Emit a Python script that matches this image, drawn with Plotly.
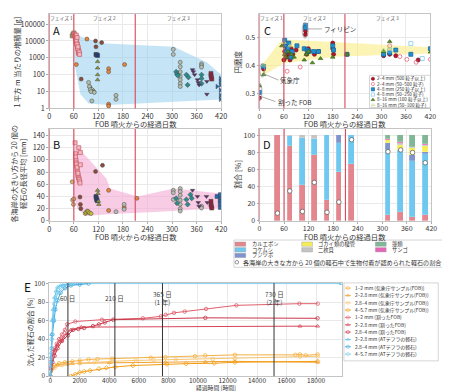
import plotly.graph_objects as go

W, H = 450, 391
FONT = "Noto Sans CJK JP"

# ---------------- shared ----------------
day_ticks = [0, 60, 120, 180, 240, 300, 360, 420]
phase_days = [0, 60, 210]
phase_names = ["フェイズ 1", "フェイズ 2", "フェイズ 3"]
phase_label_days = [30, 135, 315]

# ---------------- Panel A (g per m2, log) ----------------
A_env_x = [60, 128, 304, 385, 420, 420, 144, 96, 76, 63]
A_env_y = [25000, 7400, 4500, 550, 100, 3.4, 1.6, 2, 7, 300]

A_tan_x = [56, 58, 60];            A_tan_y = [20000, 25000, 30000]
A_pink_x = [62, 63, 64, 65, 66, 67, 68, 69, 70, 71, 72, 63, 65, 67, 69, 71, 64, 66, 68, 70, 72, 66, 68, 73, 74]
A_pink_y = [25000, 20000, 15000, 12000, 10000, 8000, 6000, 5000, 4000, 3000, 2500, 18000, 9000, 7000,
            3500, 2000, 13000, 11000, 6500, 4500, 1800, 22000, 16000, 2200, 1600]
A_orange_x = [66, 92, 145, 145, 145, 145, 184]
A_orange_y = [400, 13000, 230, 150, 1.8, 1.4, 400]
A_brown_x = [78, 113, 114, 128];   A_brown_y = [55, 10000, 4500, 8000]
A_navy_x = [114, 116, 118];        A_navy_y = [1600, 1500, 1400]
A_olive_x = [118, 118, 118, 118, 100, 108]
A_olive_y = [600, 250, 100, 50, 20, 12]
A_gray_x = [96, 98, 100, 102, 104, 110, 163, 163, 303, 303, 320, 320, 320, 320, 320, 320, 320, 372, 372, 372]
A_gray_y = [35, 20, 13, 10, 2.8, 9, 6, 3.5, 3200, 1600, 550, 300, 150, 80, 50, 30, 20, 450, 350, 280]
A_teal_x = [310, 312, 314, 335, 338, 340, 372, 372, 372]
A_teal_y = [150, 110, 90, 100, 25, 70, 100, 60, 30]
A_purple_x = [350, 352, 355, 362, 364, 366, 385, 385]
A_purple_y = [200, 150, 100, 50, 35, 25, 40, 7]
A_dred_x = [395, 395, 396, 397];   A_dred_y = [120, 90, 70, 55]
A_blue_x = [410, 418, 418, 418, 418, 418, 418]
A_blue_y = [20, 60, 40, 25, 12, 6, 3.5]

# ---------------- Panel B (mean long axis, mm) ----------------
B_env_x = [60, 64, 140, 148, 216, 304, 420, 420, 304, 144, 88, 68, 60]
B_env_y = [110, 125, 69, 53, 40, 53, 45, 21, 16, 11, 8, 21, 43]

B_tan_x = [56, 57, 59, 60];        B_tan_y = [64, 34, 27, 36]
B_pink_x = [63, 64, 65, 66, 67, 68, 69, 70, 71, 72, 73, 74, 75, 64, 66, 68, 70, 72, 76, 76]
B_pink_y = [128, 110, 100, 95, 90, 85, 80, 75, 72, 70, 68, 65, 62, 105, 93, 88, 78, 120, 112, 92]
B_brown_x = [75, 76, 77, 113, 130]; B_brown_y = [39, 27, 20, 81, 91]
B_yellow_x = [88, 90, 93, 95, 98, 102]; B_yellow_y = [12, 14, 16, 15, 13, 12]
B_navy_x = [114, 115, 116, 117];   B_navy_y = [40, 37, 35, 33]
B_olive_x = [118, 119, 120, 121];  B_olive_y = [50, 45, 32, 27]
B_orange_x = [145, 145, 183, 214]; B_orange_y = [50, 17, 22, 37]
B_gray_x = [163, 183, 183, 303, 303, 303, 320, 320, 320, 320, 320, 320, 320, 372, 372]
B_gray_y = [15, 27, 19, 50, 46, 35, 53, 48, 42, 34, 27, 20, 16, 24, 21]
B_teal_x = [310, 312, 335, 338, 345, 348]; B_teal_y = [37, 29, 35, 27, 43, 37]
B_purple_x = [350, 362, 364, 366, 384, 386]; B_purple_y = [50, 40, 30, 24, 40, 30]
B_dred_x = [395, 395, 396, 397];   B_dred_y = [32, 27, 24, 21]
B_blue_x = [410, 418, 418, 418, 418, 418]; B_blue_y = [40, 43, 36, 32, 28, 22]

# ---------------- Panel C (roundness) ----------------
C_env_x = [6, 51, 75, 184, 420, 420, 184, 59, 6]
C_env_y = [0.402, 0.485, 0.492, 0.483, 0.465, 0.443, 0.431, 0.408, 0.362]

C_s24f_x = [0, 10, 60, 62, 63, 65, 66, 68, 70, 72, 75, 78, 82, 90, 113, 113, 116, 120, 122, 135, 145, 180, 180, 182, 215, 305, 320, 335, 390]
C_s24f_y = [0.285, 0.388, 0.42, 0.45, 0.47, 0.44, 0.43, 0.46, 0.45, 0.44, 0.42, 0.46, 0.44, 0.455, 0.523, 0.51,
            0.44, 0.46, 0.45, 0.44, 0.45, 0.48, 0.46, 0.44, 0.44, 0.435, 0.44, 0.435, 0.42]
C_s24o_x = [68, 100, 320, 345, 362, 385, 420]
C_s24o_y = [0.38, 0.395, 0.47, 0.432, 0.422, 0.412, 0.422]
C_s48f_x = [0, 10, 62, 64, 66, 70, 72, 78, 80, 92, 110, 113, 113, 117, 120, 133, 145, 180, 182, 215, 305, 320, 335, 372, 420]
C_s48f_y = [0.305, 0.397, 0.49, 0.47, 0.45, 0.46, 0.48, 0.43, 0.45, 0.47, 0.46, 0.543, 0.534, 0.455, 0.45, 0.45,
            0.45, 0.47, 0.455, 0.44, 0.44, 0.445, 0.455, 0.44, 0.46]
C_s48o_x = [320, 372, 400];        C_s48o_y = [0.455, 0.478, 0.425]
C_s816f_x = [0, 10, 55, 62, 65, 70, 78, 85, 110, 115, 120, 130, 150, 180, 215, 305, 320, 420]
C_s816f_y = [0.328, 0.368, 0.47, 0.44, 0.43, 0.45, 0.44, 0.43, 0.42, 0.44, 0.45, 0.41, 0.425, 0.43, 0.44, 0.45, 0.485, 0.448]
C_s816o_x = [10, 60, 75, 305, 320]; C_s816o_y = [0.402, 0.482, 0.47, 0.455, 0.46]
C_legend = ["2–4 mm (500 粒子以上)", "2–4 mm (50–500 粒子)", "4–8 mm (250 粒子以上)",
            "4–8 mm (50–250 粒子)", "8–16 mm (100 粒子以上)", "8–16 mm (50–100 粒子)"]

# ---------------- Panel D (organism share, %) ----------------
D_days = [44, 74, 105, 134, 165, 194, 225, 314, 345, 374, 405]
D_cats = ["カルエボシ", "コケムシ", "フジツボ", "ゴカイ類の棲管", "二枚貝", "サンゴ", "藻類"]
D_karuebosi = [100, 88, 42, 77, 25, 57, 67, 7, 10, 5, 7]
D_kokemushi = [0, 11, 55, 19, 75, 34, 33, 76, 73, 65, 71]
D_fujitsubo = [0, 0, 0, 0, 0, 9, 0, 8, 0, 7, 3]
D_gokai = [0, 0, 0, 0, 0, 0, 0, 4, 6, 8, 7]
D_nimaigai = [0, 1, 3, 4, 0, 0, 0, 0, 2, 1, 1]
D_sango = [0, 0, 0, 0, 0, 0, 0, 1, 1, 0, 1]
D_sourui = [0, 0, 0, 0, 0, 0, 0, 4, 8, 14, 10]
D_ratio = [9, 35, 11, 45, 10, 22, 95, 81, 83, 80, 68]
D_ratio_label = "各海岸の大きな方から 20 個の軽石中で生物付着が認められた軽石の割合"

# ---------------- Panel E (sunk share vs hours) ----------------
E_O1_x = [0, 100, 300, 600, 1000, 1500, 2000, 2600, 3200, 4200, 6800, 7800, 9800, 10500, 12500, 16600, 16900, 17300, 18100]
E_O1_y = [0, 8, 12, 14, 15, 16, 17, 18, 18.5, 19, 20, 20.5, 21.5, 22.5, 23, 23, 23.5, 22.5, 23.5]
E_O2_x = [0, 200, 500, 1000, 1500, 2000, 4000, 7800, 10500, 12500, 18100]
E_O2_y = [0, 10, 12, 13, 13.5, 14, 14.5, 15, 15.5, 16, 15]
E_O3_x = [0, 300, 800, 1200, 2000, 3000, 4200, 5800, 7000, 8500, 11000, 12500, 16900, 18100]
E_O3_y = [0, 9, 12, 13, 14, 15, 16, 17, 17.5, 18, 18.5, 19, 21, 21.5]
E_O4_x = [1400, 1700, 2000, 2300, 2700, 3300, 3800, 4400, 5600, 7900, 9200, 11100, 12500, 18100]
E_O4_y = [0, 2, 4, 5, 6, 8, 9, 10, 11.5, 13, 13.5, 14, 15, 16]
E_R1_x = [0, 50, 100, 200, 300, 450, 600, 800, 1000, 1150, 1700, 3500, 6270, 7490, 7820, 8380, 9110, 10550, 12600, 16870, 18110]
E_R1_y = [0, 12, 20, 26, 30, 35, 40, 45, 50, 56, 59, 61, 62.5, 64.6, 66.3, 68.4, 69.8, 72.6, 76.5, 78.3, 78.3]
E_R2_x = [0, 50, 100, 200, 300, 500, 700, 900, 1100, 1400, 2100, 16900, 18100]
E_R2_y = [0, 10, 18, 24, 28, 34, 38, 42, 46, 50, 53, 54, 54]
E_R3_x = [0, 60, 150, 300, 500, 800, 1200, 1550, 1900, 2300, 2900, 3300, 3700, 4270, 10500, 18100]
E_R3_y = [0, 8, 15, 22, 30, 38, 44, 50, 51, 52, 54, 56, 58, 61, 63, 62.5]
E_B1_x = [0, 24, 48, 96, 150, 200, 300, 400, 500, 700, 900, 1200, 1700, 19700]
E_B1_y = [0, 10, 25, 45, 60, 72, 85, 92, 96, 98, 99, 100, 100, 100]
E_B2_x = [0, 24, 48, 96, 150, 250, 350, 500, 700, 1000, 1400, 2000, 2600]
E_B2_y = [0, 5, 15, 30, 45, 60, 72, 82, 90, 95, 98, 99, 100]
E_B3_x = [0, 50, 100, 200, 300, 500, 700, 900, 1200, 1500]
E_B3_y = [0, 20, 40, 62, 78, 90, 95, 97, 99, 100]
E_names = ["1–2 mm (気象庁サンプル(FOB))", "2–2.8 mm (気象庁サンプル(FOB))", "2.8–4 mm (気象庁サンプル(FOB))",
           "4–5.7 mm (気象庁サンプル(FOB))", "1–2 mm (割ったFOB)", "2–2.8 mm (割ったFOB)", "2.8–4 mm (割ったFOB)",
           "2–2.8 mm (ATテフラの軽石)", "2.8–4 mm (ATテフラの軽石)", "4–5.7 mm (ATテフラの軽石)"]
E_hour_ticks = [0, 2000, 4000, 6000, 8000, 10000, 12000, 14000, 16000, 18000]
E_mark_hours = [1200, 4380, 7600, 15150]
E_mark_labels = ["60 日", "210 日", "365 日<br>(1 年)", "730 日<br>(2 年)"]

# ---------------- helpers ----------------
def fx(p): return p / W
def fy(p): return 1 - p / H

fig = go.Figure()
ann = []
shapes = []

def text(x, y, s, size=7, color="#333", xa="center", ya="middle", angle=0, xref="paper", yref="paper"):
    if xref == "paper":
        x = fx(x)
    if yref == "paper":
        y = fy(y)
    ann.append(dict(x=x, y=y, xref=xref, yref=yref, text=s, showarrow=False, xanchor=xa, yanchor=ya,
                    textangle=angle, font=dict(size=size, color=color, family=FONT)))

def axis(domain, rng, ticks, size, log=False, labels=None):
    d = dict(domain=domain, range=rng, showline=True, linecolor="#c4c4c4", linewidth=0.8, mirror=True,
             showgrid=True, gridcolor="#e9e9e9", gridwidth=0.6, zeroline=False, ticks="outside", ticklen=2,
             tickcolor="#aaa", tickfont=dict(size=size, color="#333", family=FONT), tickvals=ticks)
    if labels is not None:
        d["ticktext"] = labels
    if log:
        d["type"] = "log"
    return d

lay = {}
lay["xaxis"] = axis([fx(40), fx(215)], [0, 420], day_ticks, 7.3)
lay["yaxis"] = axis([fy(98), fy(1)], [0, 5.6], [1, 10, 100, 1000, 10000, 100000], 7.3, log=True,
                    labels=["1", "10", "100", "1000", "10000", "100000"])
lay["xaxis2"] = axis([fx(40), fx(215)], [0, 420], day_ticks, 7.3)
lay["yaxis2"] = axis([fy(213.3), fy(119)], [0, 150.7], [0, 20, 40, 60, 80, 100, 120, 140], 7.3)
lay["xaxis3"] = axis([fx(254), fx(428)], [0, 420], day_ticks, 7)
lay["yaxis3"] = axis([fy(97.7), fy(1)], [0.249, 0.583], [0.3, 0.4, 0.5], 7)
lay["xaxis4"] = axis([fx(254), fx(429)], [0, 420], day_ticks, 7)
lay["yaxis4"] = axis([fy(213.3), fy(119)], [0, 107.6], [0, 20, 40, 60, 80, 100], 7)
lay["xaxis5"] = axis([fx(40), fx(338)], [-60, 19750], E_hour_ticks, 6.5,
                     labels=[str(v) for v in E_hour_ticks])
lay["yaxis5"] = axis([fy(372.7), fy(277.3)], [0, 100.4], [0, 20, 40, 60, 80, 100], 6.5)
for k in ["xaxis", "xaxis2", "xaxis3", "xaxis4"]:
    lay[k]["ticklabelstandoff"] = -1
lay["xaxis5"]["ticklabelstandoff"] = -4
for i in range(1, 6):
    lay["yaxis" + ("" if i == 1 else str(i))]["anchor"] = "x" + ("" if i == 1 else str(i))
    lay["xaxis" + ("" if i == 1 else str(i))]["anchor"] = "y" + ("" if i == 1 else str(i))
lay["xaxis6"] = dict(domain=[0, 1], range=[0, W], visible=False, anchor="y6", fixedrange=True)
lay["yaxis6"] = dict(domain=[0, 1], range=[H, 0], visible=False, anchor="x6", fixedrange=True)

def pts(x, y, ax, color, symbol="circle", size=4, edge="#444", ew=0.5):
    fig.add_trace(go.Scatter(x=x, y=y, xaxis="x" + ax, yaxis="y" + ax, mode="markers", showlegend=False,
                             marker=dict(color=color, symbol=symbol, size=size, line=dict(color=edge, width=ew))))

def box(x0, x1, y0, y1):
    fig.add_trace(go.Scatter(x=[x0, x1, x1, x0, x0], y=[y0, y0, y1, y1, y0], xaxis="x6", yaxis="y6",
                             mode="lines", fill="toself", fillcolor="white", showlegend=False,
                             line=dict(color="#bbbbbb", width=0.6)))

# ---- A ----
fig.add_trace(go.Scatter(x=A_env_x, y=A_env_y, xaxis="x", yaxis="y", fill="toself", mode="lines",
                         line=dict(width=0), fillcolor="rgba(150,208,238,0.55)", showlegend=False))
pts(A_tan_x, A_tan_y, "", "#d8b468", "square")
pts(A_pink_x, A_pink_y, "", "#f4b8bc", "square", edge="#c85a6a", ew=0.7)
pts(A_orange_x, A_orange_y, "", "#e8843a")
pts(A_brown_x, A_brown_y, "", "#8c4a3c")
pts(A_navy_x, A_navy_y, "", "#243c78", "square")
pts(A_olive_x, A_olive_y, "", "#8e9c34", "triangle-up")
pts(A_gray_x, A_gray_y, "", "#b4beb0")
pts(A_teal_x, A_teal_y, "", "#2a8c8c", "diamond")
pts(A_purple_x, A_purple_y, "", "#5c2c6c", "triangle-down")
pts(A_dred_x, A_dred_y, "", "#96203e", "square")
pts(A_blue_x, A_blue_y, "", "#2468b4", "triangle-right")

# ---- B ----
fig.add_trace(go.Scatter(x=B_env_x, y=B_env_y, xaxis="x2", yaxis="y2", fill="toself", mode="lines",
                         line=dict(width=0), fillcolor="rgba(244,170,210,0.6)", showlegend=False))
pts(B_tan_x, B_tan_y, "2", "#d8b468")
pts(B_pink_x, B_pink_y, "2", "#f4b8bc", "square", edge="#c85a6a", ew=0.7)
pts(B_brown_x, B_brown_y, "2", "#8c4a3c")
pts(B_yellow_x, B_yellow_y, "2", "#c8c034")
pts(B_navy_x, B_navy_y, "2", "#243c78", "square")
pts(B_olive_x, B_olive_y, "2", "#8e9c34", "triangle-up")
pts(B_orange_x, B_orange_y, "2", "#e8843a")
pts(B_gray_x, B_gray_y, "2", "#b4beb0")
pts(B_teal_x, B_teal_y, "2", "#2a8c8c", "diamond")
pts(B_purple_x, B_purple_y, "2", "#5c2c6c", "triangle-down")
pts(B_dred_x, B_dred_y, "2", "#96203e", "square")
pts(B_blue_x, B_blue_y, "2", "#2468b4", "square")

# ---- C ----
fig.add_trace(go.Scatter(x=C_env_x, y=C_env_y, xaxis="x3", yaxis="y3", fill="toself", mode="lines",
                         line=dict(width=0), fillcolor="rgba(250,236,130,0.6)", showlegend=False))
C_styles = [("#b4142c", "circle", "#7a0a1a"), ("#e0506a", "circle-open", "#e0506a"),
            ("#1f8fd2", "square", "#16609a"), ("#6ec6ee", "square-open", "#6ec6ee"),
            ("#5a8a2a", "triangle-up", "#3c6a18"), ("#b4d474", "triangle-up-open", "#a0c860")]
C_series = [(C_s24f_x, C_s24f_y), (C_s24o_x, C_s24o_y), (C_s48f_x, C_s48f_y),
            (C_s48o_x, C_s48o_y), (C_s816f_x, C_s816f_y), (C_s816o_x, C_s816o_y)]
for (cx, cy), (col, sym, edge) in zip(C_series, C_styles):
    fig.add_trace(go.Scatter(x=cx, y=cy, xaxis="x3", yaxis="y3", mode="markers", showlegend=False,
                             marker=dict(color=col, symbol=sym, size=4, line=dict(color=edge, width=0.7))))

# ellipses & labels in C
for (x0, x1, y0, y1) in [(-6, 6, 0.276, 0.339), (1, 13, 0.359, 0.408), (105, 119, 0.497, 0.552)]:
    shapes.append(dict(type="circle", xref="x3", yref="y3", x0=x0, x1=x1, y0=y0, y1=y1,
                       line=dict(color="#9a9a9a", width=0.8)))
for (x, y, s, axp, ayp) in [(5, 0.29, "割った FOB", 14, 5), (12, 0.37, "気象庁", 14, 6),
                            (119, 0.53, "フィリピン", 14, 0)]:
    ann.append(dict(x=x, y=y, xref="x3", yref="y3", ax=axp, ay=ayp, text=s, showarrow=True, arrowhead=0,
                    arrowwidth=0.7, arrowcolor="#888", xanchor="left", yanchor="middle",
                    font=dict(size=6.5, color="#333", family=FONT)))

# ---- D ----
D_values = [D_karuebosi, D_kokemushi, D_fujitsubo, D_gokai, D_nimaigai, D_sango, D_sourui]
D_colors = ["#e4868e", "#6ec8f0", "#7f94cc", "#f6ee58", "#c4c4c4", "#e864b8", "#80b896"]
for name, vals, col in zip(D_cats, D_values, D_colors):
    fig.add_trace(go.Bar(x=D_days, y=vals, width=13.6, name=name, xaxis="x4", yaxis="y4", showlegend=False,
                         marker=dict(color=col, line=dict(color="rgba(255,255,255,0.6)", width=0.3))))
fig.add_trace(go.Scatter(x=D_days, y=D_ratio, xaxis="x4", yaxis="y4", mode="markers", showlegend=False,
                         marker=dict(color="white", size=4.5, line=dict(color="#666", width=0.8))))
fig.update_layout(barmode="stack", bargap=0)

# ---- E ----
E_series = [(E_O1_x, E_O1_y), (E_O2_x, E_O2_y), (E_O3_x, E_O3_y), (E_O4_x, E_O4_y),
            (E_R1_x, E_R1_y), (E_R2_x, E_R2_y), (E_R3_x, E_R3_y),
            (E_B1_x, E_B1_y), (E_B2_x, E_B2_y), (E_B3_x, E_B3_y)]
E_styles = [("#f5b041", "circle-open"), ("#f0a030", "triangle-up-open"), ("#f8c470", "circle-open"),
            ("#f39c12", "diamond-open"), ("#e0606e", "circle-open"), ("#d64557", "triangle-up-open"),
            ("#c8384a", "circle-open"), ("#5bc0eb", "triangle-up-open"), ("#3aa6dd", "circle-open"),
            ("#74c9ef", "diamond-open")]
for (ex, ey), (col, sym) in zip(E_series, E_styles):
    fig.add_trace(go.Scatter(x=ex, y=ey, xaxis="x5", yaxis="y5", mode="lines+markers", showlegend=False,
                             line=dict(color=col, width=1),
                             marker=dict(symbol=sym, size=3.5, color=col, line=dict(width=0.8, color=col))))
for hx, lab in zip(E_mark_hours, E_mark_labels):
    shapes.append(dict(type="line", xref="x5", yref="y5 domain", x0=hx, x1=hx, y0=0, y1=1,
                       line=dict(color="#333", width=1)))
    text(hx, 84, lab, size=6.5, color="#444", xref="x5", yref="y5")

# phase lines A-D
for axn in ["", "2", "3", "4"]:
    for d in phase_days:
        shapes.append(dict(type="line", xref="x" + axn, yref="y" + axn + " domain", x0=d, x1=d, y0=0, y1=1,
                           line=dict(color="#d8485a", width=1.1)))
for axn in ["", "3"]:
    for d, s in zip(phase_label_days, phase_names):
        text(d, 0.955, s, size=4.8, color="#555", xref="x" + axn, yref="y" + axn + " domain")

# panel letters
text(47, 17, "A", size=11, color="#111")
text(47, 134, "B", size=11, color="#111")
text(262, 17, "C", size=11, color="#111")
text(262, 134, "D", size=11, color="#111")
text(18, 281, "E", size=12, color="#111")

# axis titles
xt = "FOB 噴火からの経過日数"
text(128, 113.8, xt, size=7.3)
text(128, 229.8, xt, size=7.3)
text(341, 113.8, xt, size=7.3)
text(341, 229.8, xt, size=7.3)
text(210, 384.6, "経過時間 [時間]", size=5.8)
text(7, 50, "1 平方 m 当たりの増積量 [g]", size=7.2, angle=-90)
text(9, 165, "各海岸の大きい方から 20 個の<br>軽石の長径平均 [mm]", size=7.2, angle=-90)
text(232, 50, "円磨度", size=7.5, angle=-90)
text(232, 165, "割合 [%]", size=7.5, angle=-90)
text(20, 327, "沈んだ軽石の割合 [%]", size=7.0, angle=-90)

# ---- manual legends (overlay axis in pixel space) ----
# C legend
box(366, 428, 64, 97)
for i, (lab, (col, sym, edge)) in enumerate(zip(C_legend, C_styles)):
    yy = 67.5 + i * 5.4
    fig.add_trace(go.Scatter(x=[369.5], y=[yy], xaxis="x6", yaxis="y6", mode="markers", showlegend=False,
                             marker=dict(color=col, symbol=sym, size=3.2, line=dict(color=edge, width=0.6))))
    text(372, yy, lab, size=4.6, xa="left")

# D legend
box(228, 448, 233, 261)
D_leg_pos = [(229, 237.2), (229, 243.0), (229, 248.8), (297, 237.2), (297, 243.0), (372, 243.0), (372, 237.2)]
for name, col, (lx, ly) in zip(D_cats, D_colors, D_leg_pos):
    shapes.append(dict(type="rect", xref="paper", yref="paper", x0=fx(lx), x1=fx(lx + 11), y0=fy(ly + 2.2),
                       y1=fy(ly - 2.2), fillcolor=col, line=dict(color="#999", width=0.4)))
    text(lx + 15, ly, name, size=5.3, xa="left")
fig.add_trace(go.Scatter(x=[231], y=[255.8], xaxis="x6", yaxis="y6", mode="markers", showlegend=False,
                         marker=dict(color="white", size=3.5, line=dict(color="#666", width=0.7))))
text(235, 255.8, D_ratio_label, size=6.1, xa="left")

# E legend
box(340, 436, 277, 357)
for i, (lab, (col, sym)) in enumerate(zip(E_names, E_styles)):
    yy = 282.3 + i * 7.53
    fig.add_trace(go.Scatter(x=[341, 344, 347], y=[yy, yy, yy], xaxis="x6", yaxis="y6", mode="lines+markers",
                             showlegend=False, line=dict(color=col, width=0.8),
                             marker=dict(symbol=sym, size=[0, 3.2, 0], color=col, line=dict(width=0.7, color=col))))
    text(349, yy, lab, size=4.9, xa="left")

fig.update_layout(**lay)
fig.update_layout(width=W, height=H, margin=dict(l=0, r=0, t=0, b=0), paper_bgcolor="white",
                  plot_bgcolor="rgba(0,0,0,0)", font=dict(family=FONT, size=7, color="#333"),
                  annotations=ann, shapes=shapes, showlegend=False)
fig.write_html("out.html")
